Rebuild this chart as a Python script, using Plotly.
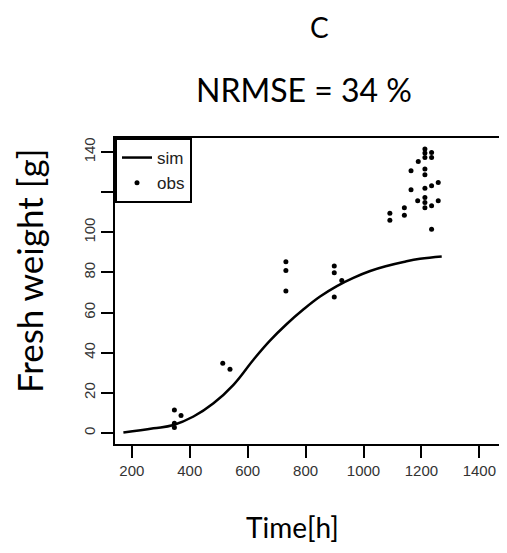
import plotly.graph_objects as go

# Simulated curve
sim_time = [171, 275, 344, 413, 482, 551, 620, 677, 735, 792, 850, 908,
            965, 1023, 1080, 1138, 1195, 1270]
sim_weight = [0.2, 2.3, 4, 8.2, 14.8, 24, 36.5, 46, 54.3, 61.5, 68, 73.2,
              77.3, 80.7, 83.2, 85.2, 86.8, 88]

obs_time = [347, 347, 347, 370, 514, 539, 732, 732, 732, 899, 899, 899, 925,
            1091, 1091, 1141, 1141, 1164, 1164, 1189, 1187,
            1212, 1212, 1212, 1212, 1212, 1212, 1212, 1212, 1212,
            1235, 1235, 1235, 1235, 1235, 1258, 1258]
obs_weight = [11.5, 4.8, 2.7, 8.7, 34.8, 31.8, 85.3, 81, 70.7, 83.2, 79.8, 67.7, 76,
              109.5, 106, 112.3, 108.5, 130.7, 121.2, 135.3, 115.7,
              141.5, 139.5, 137.3, 131.5, 128.7, 122, 117.3, 114.8, 112.3,
              139.8, 137.3, 123.2, 113.2, 101.5, 124.8, 115.7]

x_ticks = [200, 400, 600, 800, 1000, 1200, 1400]
y_ticks = [0, 20, 40, 60, 80, 100, 120, 140]
y_ticktext = ["0", "20", "40", "60", "80", "100", "", "140"]

fig = go.Figure()
fig.add_trace(go.Scatter(x=sim_time, y=sim_weight, mode="lines", name="sim",
                         line=dict(color="black", width=2.5, shape="spline", smoothing=1.2)))
fig.add_trace(go.Scatter(x=obs_time, y=obs_weight, mode="markers", name="obs",
                         marker=dict(color="black", size=5)))

tick_font = dict(family="Liberation Sans, Arial, sans-serif", size=15, color="#333")

fig.update_layout(
    width=507, height=553,
    margin=dict(l=107, r=0, t=130, b=117),
    plot_bgcolor="white", paper_bgcolor="white",
    showlegend=True,
    legend=dict(x=0, y=1, xanchor="left", yanchor="top",
                bordercolor="black", borderwidth=2, bgcolor="white",
                font=dict(family="Liberation Sans, Arial, sans-serif", size=17, color="#222"),
                itemwidth=30, tracegroupgap=0),
    xaxis=dict(range=[142, 1523], tickvals=x_ticks, ticks="outside", ticklen=12,
               tickwidth=2, tickcolor="black", showline=True, linewidth=2,
               linecolor="black", mirror=True, showgrid=False, zeroline=False,
               tickfont=tick_font),
    yaxis=dict(range=[-5.5, 147], tickvals=y_ticks, ticktext=y_ticktext,
               ticks="outside", ticklen=12, tickwidth=2, tickcolor="black",
               showline=True, linewidth=2, linecolor="black", showgrid=False,
               zeroline=False, tickangle=-90, tickfont=tick_font),
)

def title_font(size):
    return dict(family="Lato, Open Sans, sans-serif", size=size, color="black")

fig.add_annotation(text="C", xref="paper", yref="paper", x=0.51, y=1.363,
                   xanchor="center", yanchor="middle", showarrow=False, font=title_font(28))
fig.add_annotation(text="NRMSE = 34 %", xref="paper", yref="paper", x=0.4725, y=1.157,
                   xanchor="center", yanchor="middle", showarrow=False, font=title_font(32))
fig.add_annotation(text="Time[h]", xref="paper", yref="paper", x=0.4425, y=-0.271,
                   xanchor="center", yanchor="middle", showarrow=False, font=title_font(28))
fig.add_annotation(text="Fresh weight [g]", xref="paper", yref="paper", x=-0.215, y=0.565,
                   xanchor="center", yanchor="middle", showarrow=False, textangle=-90,
                   font=title_font(35))

fig.write_html("out.html")
